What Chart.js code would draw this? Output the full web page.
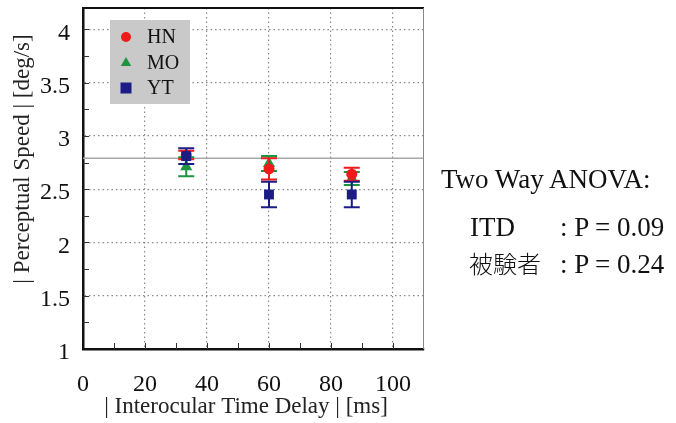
<!DOCTYPE html>
<html>
<head>
<meta charset="utf-8">
<script src="https://cdn.jsdelivr.net/npm/chart.js@4/dist/chart.umd.min.js"></script>
<style>
  body { margin: 0; background: #fff; }
  #wrap { position: relative; width: 676px; height: 423px; }
  .row { position: absolute; white-space: nowrap; font-family: 'Liberation Serif', 'Times New Roman', serif; font-size: 27px; line-height: 27px; color: #111; }
  .jp { font-family: 'Noto Sans CJK JP', sans-serif; font-size: 24px; font-weight: 300; }
</style>
</head>
<body>
<div id="wrap">
  <canvas id="my-chart" width="676" height="423"></canvas>
  <div class="row" style="left:441px; top:166px;">Two Way ANOVA:</div>
  <div class="row" style="left:470px; top:214px;">ITD</div>
  <div class="row" style="left:560px; top:214px;">: P = 0.09</div>
  <div class="row jp" style="left:469px; top:249px;">被験者</div>
  <div class="row" style="left:560px; top:251px;">: P = 0.24</div>
</div>
<script>
const delays = [33.3, 60, 86.7]; // ms
const hnMean = [2.82, 2.69, 2.64];
const hnErr = [0.04, 0.10, 0.06];
const moMean = [2.71, 2.74, 2.60];
const moErr = [0.09, 0.07, 0.06];
const ytMean = [2.81, 2.45, 2.45];
const ytErr = [0.075, 0.12, 0.12];
const refLevel = 2.79;

const xTicks = [0, 20, 40, 60, 80, 100];
const yTicks = [1, 1.5, 2, 2.5, 3, 3.5, 4];

const serif = "'Liberation Serif', 'Times New Roman', serif";
const toPoints = means => means.map((m, i) => ({ x: delays[i], y: m }));

function drawMarker(ctx, style, x, y, r, color) {
  ctx.fillStyle = color;
  ctx.beginPath();
  if (style === 'circle') {
    ctx.arc(x, y, r, 0, Math.PI * 2);
  } else if (style === 'triangle') {
    ctx.moveTo(x, y - r);
    ctx.lineTo(x + r * 0.95, y + r * 0.65);
    ctx.lineTo(x - r * 0.95, y + r * 0.65);
    ctx.closePath();
  } else {
    ctx.rect(x - r, y - r, 2 * r, 2 * r);
  }
  ctx.fill();
}

const extras = {
  id: 'extras',
  // error bars go under each dataset's own markers
  beforeDatasetDraw(chart, args) {
    const ds = chart.data.datasets[args.index];
    if (!ds.errors) return;
    const { ctx, scales: { x, y } } = chart;
    ctx.save();
    ctx.strokeStyle = ds.backgroundColor;
    ctx.lineWidth = 2;
    ds.data.forEach((p, i) => {
      const px = x.getPixelForValue(p.x);
      const top = y.getPixelForValue(p.y + ds.errors[i]);
      const bot = y.getPixelForValue(p.y - ds.errors[i]);
      ctx.beginPath();
      ctx.moveTo(px, top); ctx.lineTo(px, bot);
      ctx.moveTo(px - 8, top); ctx.lineTo(px + 8, top);
      ctx.moveTo(px - 8, bot); ctx.lineTo(px + 8, bot);
      ctx.stroke();
    });
    ctx.restore();
  },
  afterDraw(chart) {
    const { ctx, chartArea: a, scales: { x, y } } = chart;
    ctx.save();

    // top and right edges of the frame
    ctx.strokeStyle = '#111';
    ctx.lineWidth = 2;
    ctx.beginPath(); ctx.moveTo(a.left, a.top); ctx.lineTo(a.right, a.top); ctx.stroke();
    ctx.strokeStyle = '#888';
    ctx.lineWidth = 1;
    ctx.beginPath(); ctx.moveTo(a.right - 0.5, a.top); ctx.lineTo(a.right - 0.5, a.bottom); ctx.stroke();

    // inner tick marks
    ctx.strokeStyle = '#333';
    ctx.lineWidth = 1;
    for (let v = 10; v <= 100; v += 10) {
      const px = Math.round(x.getPixelForValue(v)) + 0.5;
      ctx.beginPath(); ctx.moveTo(px, a.bottom); ctx.lineTo(px, a.bottom - 6); ctx.stroke();
    }
    for (let v = 1.25; v <= 4; v += 0.25) {
      const py = Math.round(y.getPixelForValue(v)) + 0.5;
      ctx.beginPath(); ctx.moveTo(a.left, py); ctx.lineTo(a.left + 6, py); ctx.stroke();
    }

    // legend box
    ctx.fillStyle = '#c9c9c9';
    ctx.fillRect(110, 20, 80, 84);
    ctx.font = '20px ' + serif;
    ctx.textBaseline = 'middle';
    chart.data.datasets.filter(d => d.errors).forEach((d, i) => {
      const ly = 37 + i * 25.5;
      drawMarker(ctx, d.pointStyle, 126, ly, d.pointStyle === 'circle' ? 5 : 5.5, d.backgroundColor);
      ctx.fillStyle = '#111';
      ctx.fillText(d.label, 147, ly + 1);
    });

    // axis titles
    ctx.fillStyle = '#222';
    ctx.textAlign = 'center';
    ctx.font = '23px ' + serif;
    ctx.fillText('| Interocular Time Delay | [ms]', 246, 407);
    ctx.translate(23, 159);
    ctx.rotate(-Math.PI / 2);
    ctx.fillText('| Perceptual Speed | [deg/s]', 0, 0);
    ctx.restore();
  }
};

const ctx = document.getElementById('my-chart').getContext('2d');
const chart = new Chart(ctx, {
  type: 'scatter',
  data: {
    datasets: [
      {
        label: 'HN',
        data: toPoints(hnMean),
        errors: hnErr,
        pointStyle: 'circle',
        pointRadius: 5.5,
        backgroundColor: '#f01a1a',
        borderWidth: 0,
        order: 2
      },
      {
        label: 'MO',
        data: toPoints(moMean),
        errors: moErr,
        pointStyle: 'triangle',
        pointRadius: 7,
        backgroundColor: '#1e9440',
        borderWidth: 0,
        order: 3
      },
      {
        label: 'YT',
        data: toPoints(ytMean),
        errors: ytErr,
        pointStyle: 'rect',
        pointRadius: 7,
        backgroundColor: '#1c1c86',
        borderWidth: 0,
        order: 1
      },
      {
        type: 'line',
        label: 'ref',
        data: [{ x: 0, y: refLevel }, { x: 110, y: refLevel }],
        borderColor: '#a8a8a8',
        borderWidth: 1.5,
        pointRadius: 0,
        order: 10
      }
    ]
  },
  options: {
    responsive: false,
    animation: false,
    layout: { padding: { left: 0, right: 252, top: 8, bottom: 0 } },
    plugins: { legend: { display: false }, tooltip: { enabled: false } },
    scales: {
      x: {
        type: 'linear',
        min: 0,
        max: 110,
        afterBuildTicks: s => { s.ticks = xTicks.map(v => ({ value: v })); },
        afterFit: s => { s.height = 74; s.paddingLeft = 0; s.paddingRight = 0; },
        grid: {
          color: c => (c.tick && c.tick.value === 0 ? 'rgba(0,0,0,0)' : '#8a8a8a'),
          lineWidth: 1.2,
          drawTicks: false
        },
        border: { color: '#111', width: 2.5, dash: [1.5, 3] },
        ticks: { color: '#111', padding: 21, font: { family: serif, size: 24 }, maxRotation: 0 }
      },
      y: {
        min: 1,
        max: 4.2,
        afterBuildTicks: s => { s.ticks = yTicks.map(v => ({ value: v })); },
        afterFit: s => { s.width = 83; s.paddingTop = 0; s.paddingBottom = 0; },
        grid: {
          color: c => (c.tick && c.tick.value === 1 ? 'rgba(0,0,0,0)' : '#8a8a8a'),
          lineWidth: 1.2,
          drawTicks: false
        },
        border: { color: '#111', width: 2.5, dash: [1.5, 3] },
        ticks: {
          color: '#111',
          padding: 13,
          labelOffset: 4,
          font: { family: serif, size: 24 },
          callback: v => String(v)
        }
      }
    }
  },
  plugins: [extras]
});
</script>
</body>
</html>
